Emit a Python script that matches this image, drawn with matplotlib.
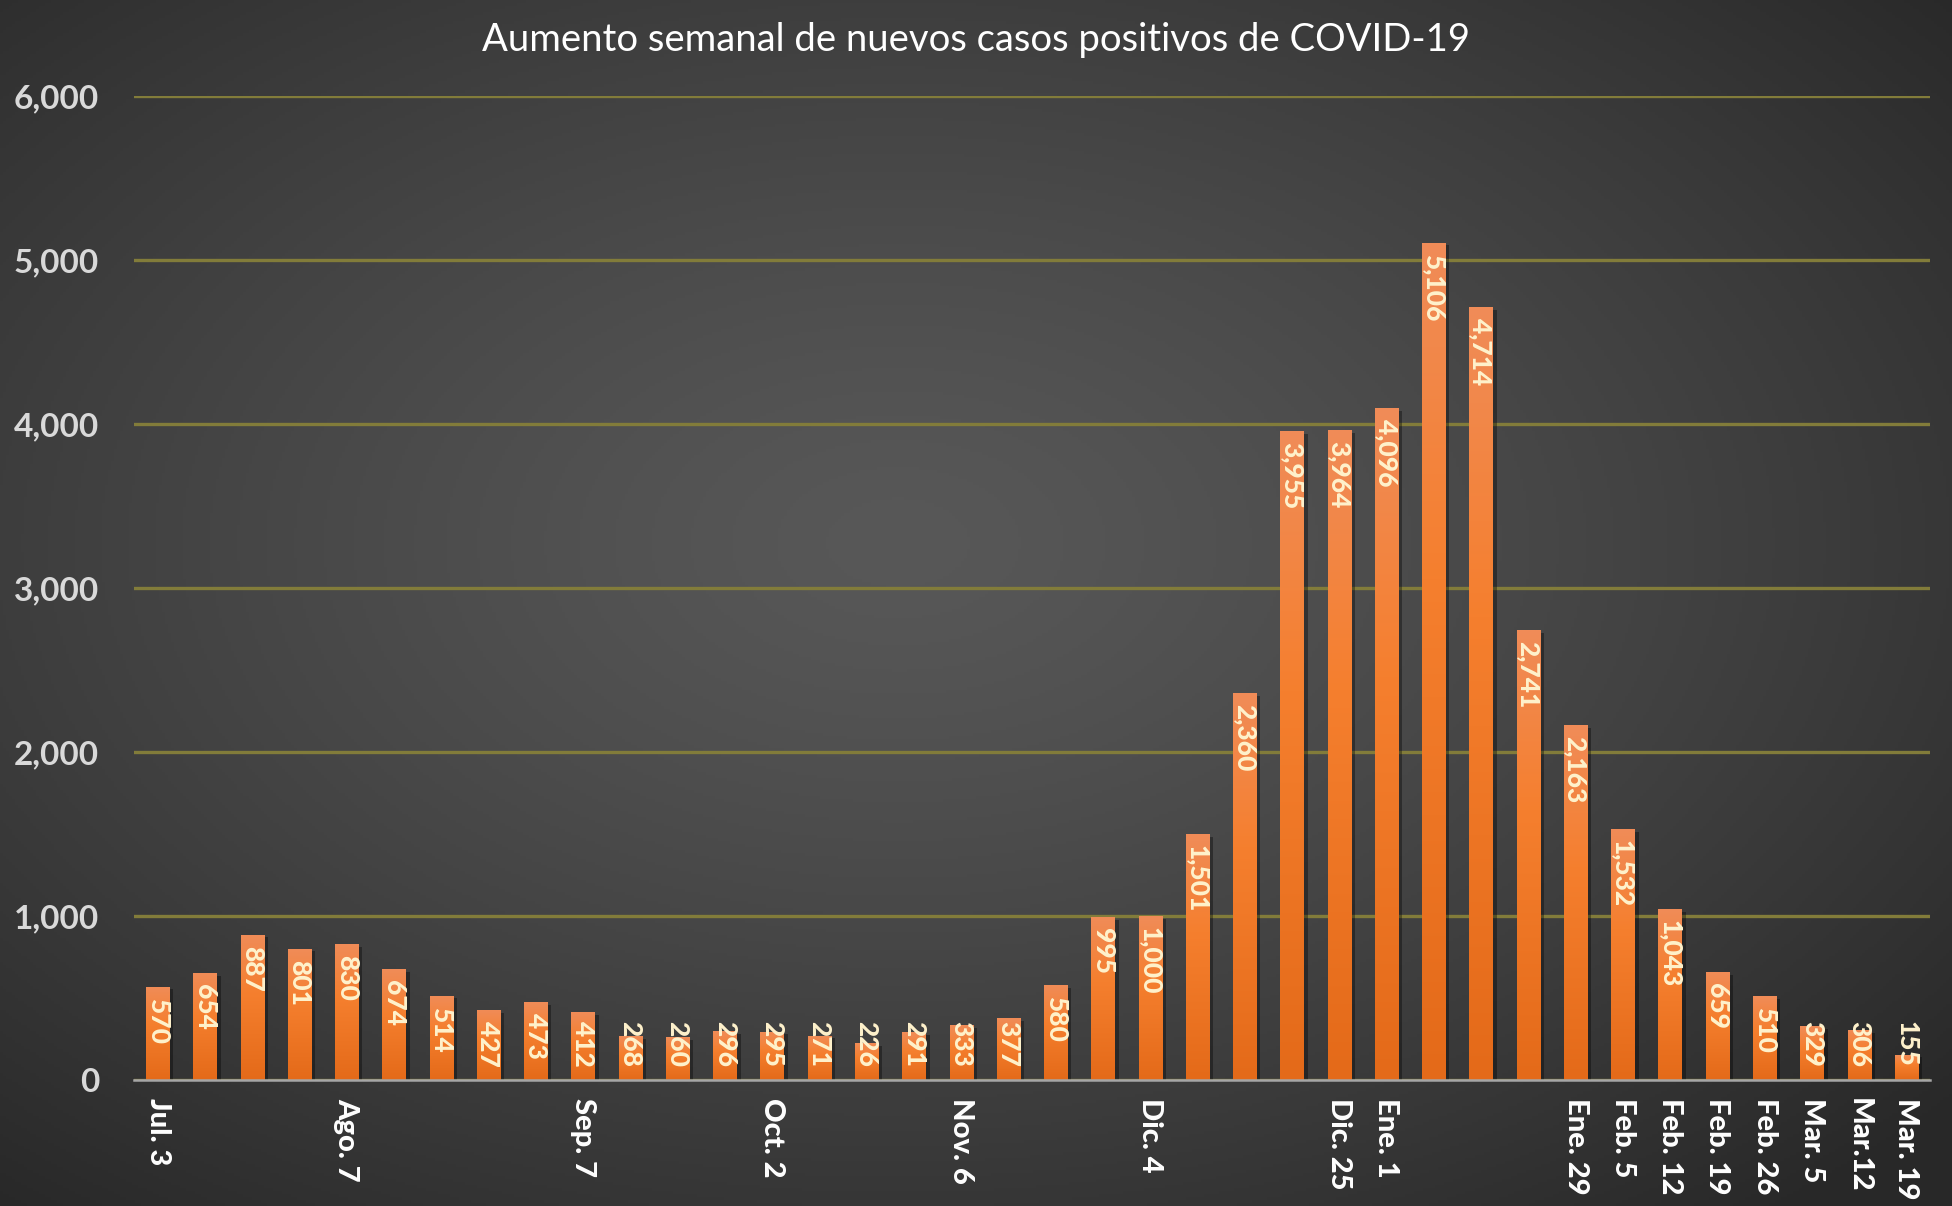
import numpy as np
import matplotlib
matplotlib.use('Agg')
import matplotlib.pyplot as plt
from matplotlib.colors import LinearSegmentedColormap
from matplotlib import patheffects as pe

# ---------------- data ----------------
title = "Aumento semanal de nuevos casos positivos de COVID-19"
values = [570, 654, 887, 801, 830, 674, 514, 427, 473, 412, 268, 260, 296, 295,
          271, 226, 291, 333, 377, 580, 995, 1000, 1501, 2360, 3955, 3964, 4096,
          5106, 4714, 2741, 2163, 1532, 1043, 659, 510, 329, 306, 155]
tick_labels = ["Jul. 3", "", "", "", "Ago. 7", "", "", "", "", "Sep. 7", "", "", "",
               "Oct. 2", "", "", "", "Nov. 6", "", "", "", "Dic. 4", "", "", "",
               "Dic. 25", "Ene. 1", "", "", "", "Ene. 29", "Feb. 5", "Feb. 12",
               "Feb. 19", "Feb. 26", "Mar. 5", "Mar.12", "Mar. 19"]
y_ticks = [0, 1000, 2000, 3000, 4000, 5000, 6000]

W, H, DPI = 1952, 1206, 100
fig = plt.figure(figsize=(W / DPI, H / DPI), dpi=DPI)

# ---------------- background radial gradient ----------------
bg = fig.add_axes([0, 0, 1, 1], zorder=-10)
gy, gx = np.mgrid[0:1:400j, 0:1:650j]
r = np.sqrt(((gx - 0.46) / 0.72) ** 2 + ((gy - 0.45) / 0.72) ** 2)
r = np.clip(r, 0, 1) ** 1.3
c_center = np.array([0x58, 0x58, 0x58]) / 255
c_edge = np.array([0x28, 0x28, 0x28]) / 255
img = c_center[None, None, :] * (1 - r[..., None]) + c_edge[None, None, :] * r[..., None]
bg.imshow(img, extent=[0, 1, 0, 1], aspect='auto', origin='upper')
bg.set_axis_off()

# ---------------- main axes ----------------
ax = fig.add_axes([134 / W, 1 - 1080 / H, (1930 - 134) / W, (1080 - 96) / H])
ax.set_facecolor('none')
x = np.arange(len(values))
bars = ax.bar(x, values, width=0.49, color='#F07C2C', zorder=3,
              path_effects=[pe.SimplePatchShadow(offset=(3, -2), alpha=0.35, shadow_rgbFace='black'),
                            pe.Normal()])

cmap = LinearSegmentedColormap.from_list(
    'og', [(0.0, '#E46A19'), (0.6, '#F57F2E'), (1.0, '#F08C58')])
grad = np.linspace(0, 1, 256).reshape(-1, 1)
for b in bars:
    x0, w, h = b.get_x(), b.get_width(), b.get_height()
    im = ax.imshow(grad, extent=[x0, x0 + w, 0, h], aspect='auto', origin='lower',
                   cmap=cmap, zorder=3.5)
    im.set_clip_path(b)

ax.set_xlim(-0.5, len(values) - 0.5)
ax.set_ylim(0, 6000)

for s in ['top', 'right', 'left']:
    ax.spines[s].set_visible(False)
ax.spines['bottom'].set_color('#a6a6a6')
ax.spines['bottom'].set_linewidth(1.8)
ax.spines['bottom'].set_zorder(5)

ax.set_yticks(y_ticks)
ax.set_yticklabels([f"{v:,}" for v in y_ticks])
ax.yaxis.grid(True, color='#827c3a', linewidth=2.4, zorder=1)
ax.set_axisbelow(True)
ax.tick_params(axis='y', length=0, pad=25, labelsize=24, labelcolor='#d9d9d9')
for t in ax.get_yticklabels():
    t.set_fontfamily('Lato')
    t.set_fontweight('bold')

ax.set_xticks(x)
ax.set_xticklabels(tick_labels, rotation=270, fontfamily='Lato', fontweight='black',
                   fontsize=21, color='white', va='top', ha='center')
ax.tick_params(axis='x', length=0, pad=13)

# ---------------- value labels ----------------
fig.canvas.draw()
renderer = fig.canvas.get_renderer()
px_per_unit = ax.transData.transform((0, 1000))[1] - ax.transData.transform((0, 0))[1]
px_per_unit /= 1000.0
pad_top = 11 / px_per_unit
pad_base = 13 / px_per_unit
for xi, v in zip(x, values):
    t = ax.text(xi, v - pad_top, f"{v:,}", rotation=-90, ha='center', va='top',
                fontfamily='Lato', fontweight='black', fontsize=19, color='#FFF2CC',
                zorder=6)
    bb = t.get_window_extent(renderer)
    hdata = bb.height / px_per_unit
    if hdata + pad_top + pad_base > v:
        t.set_y(pad_base)
        t.set_va('bottom')

# ---------------- title ----------------
fig.text(0.5, 1 - 40 / H, title, ha='center', va='center', fontfamily='Lato',
         fontsize=27.5, color='white')

fig.savefig('out.png', dpi=DPI)
